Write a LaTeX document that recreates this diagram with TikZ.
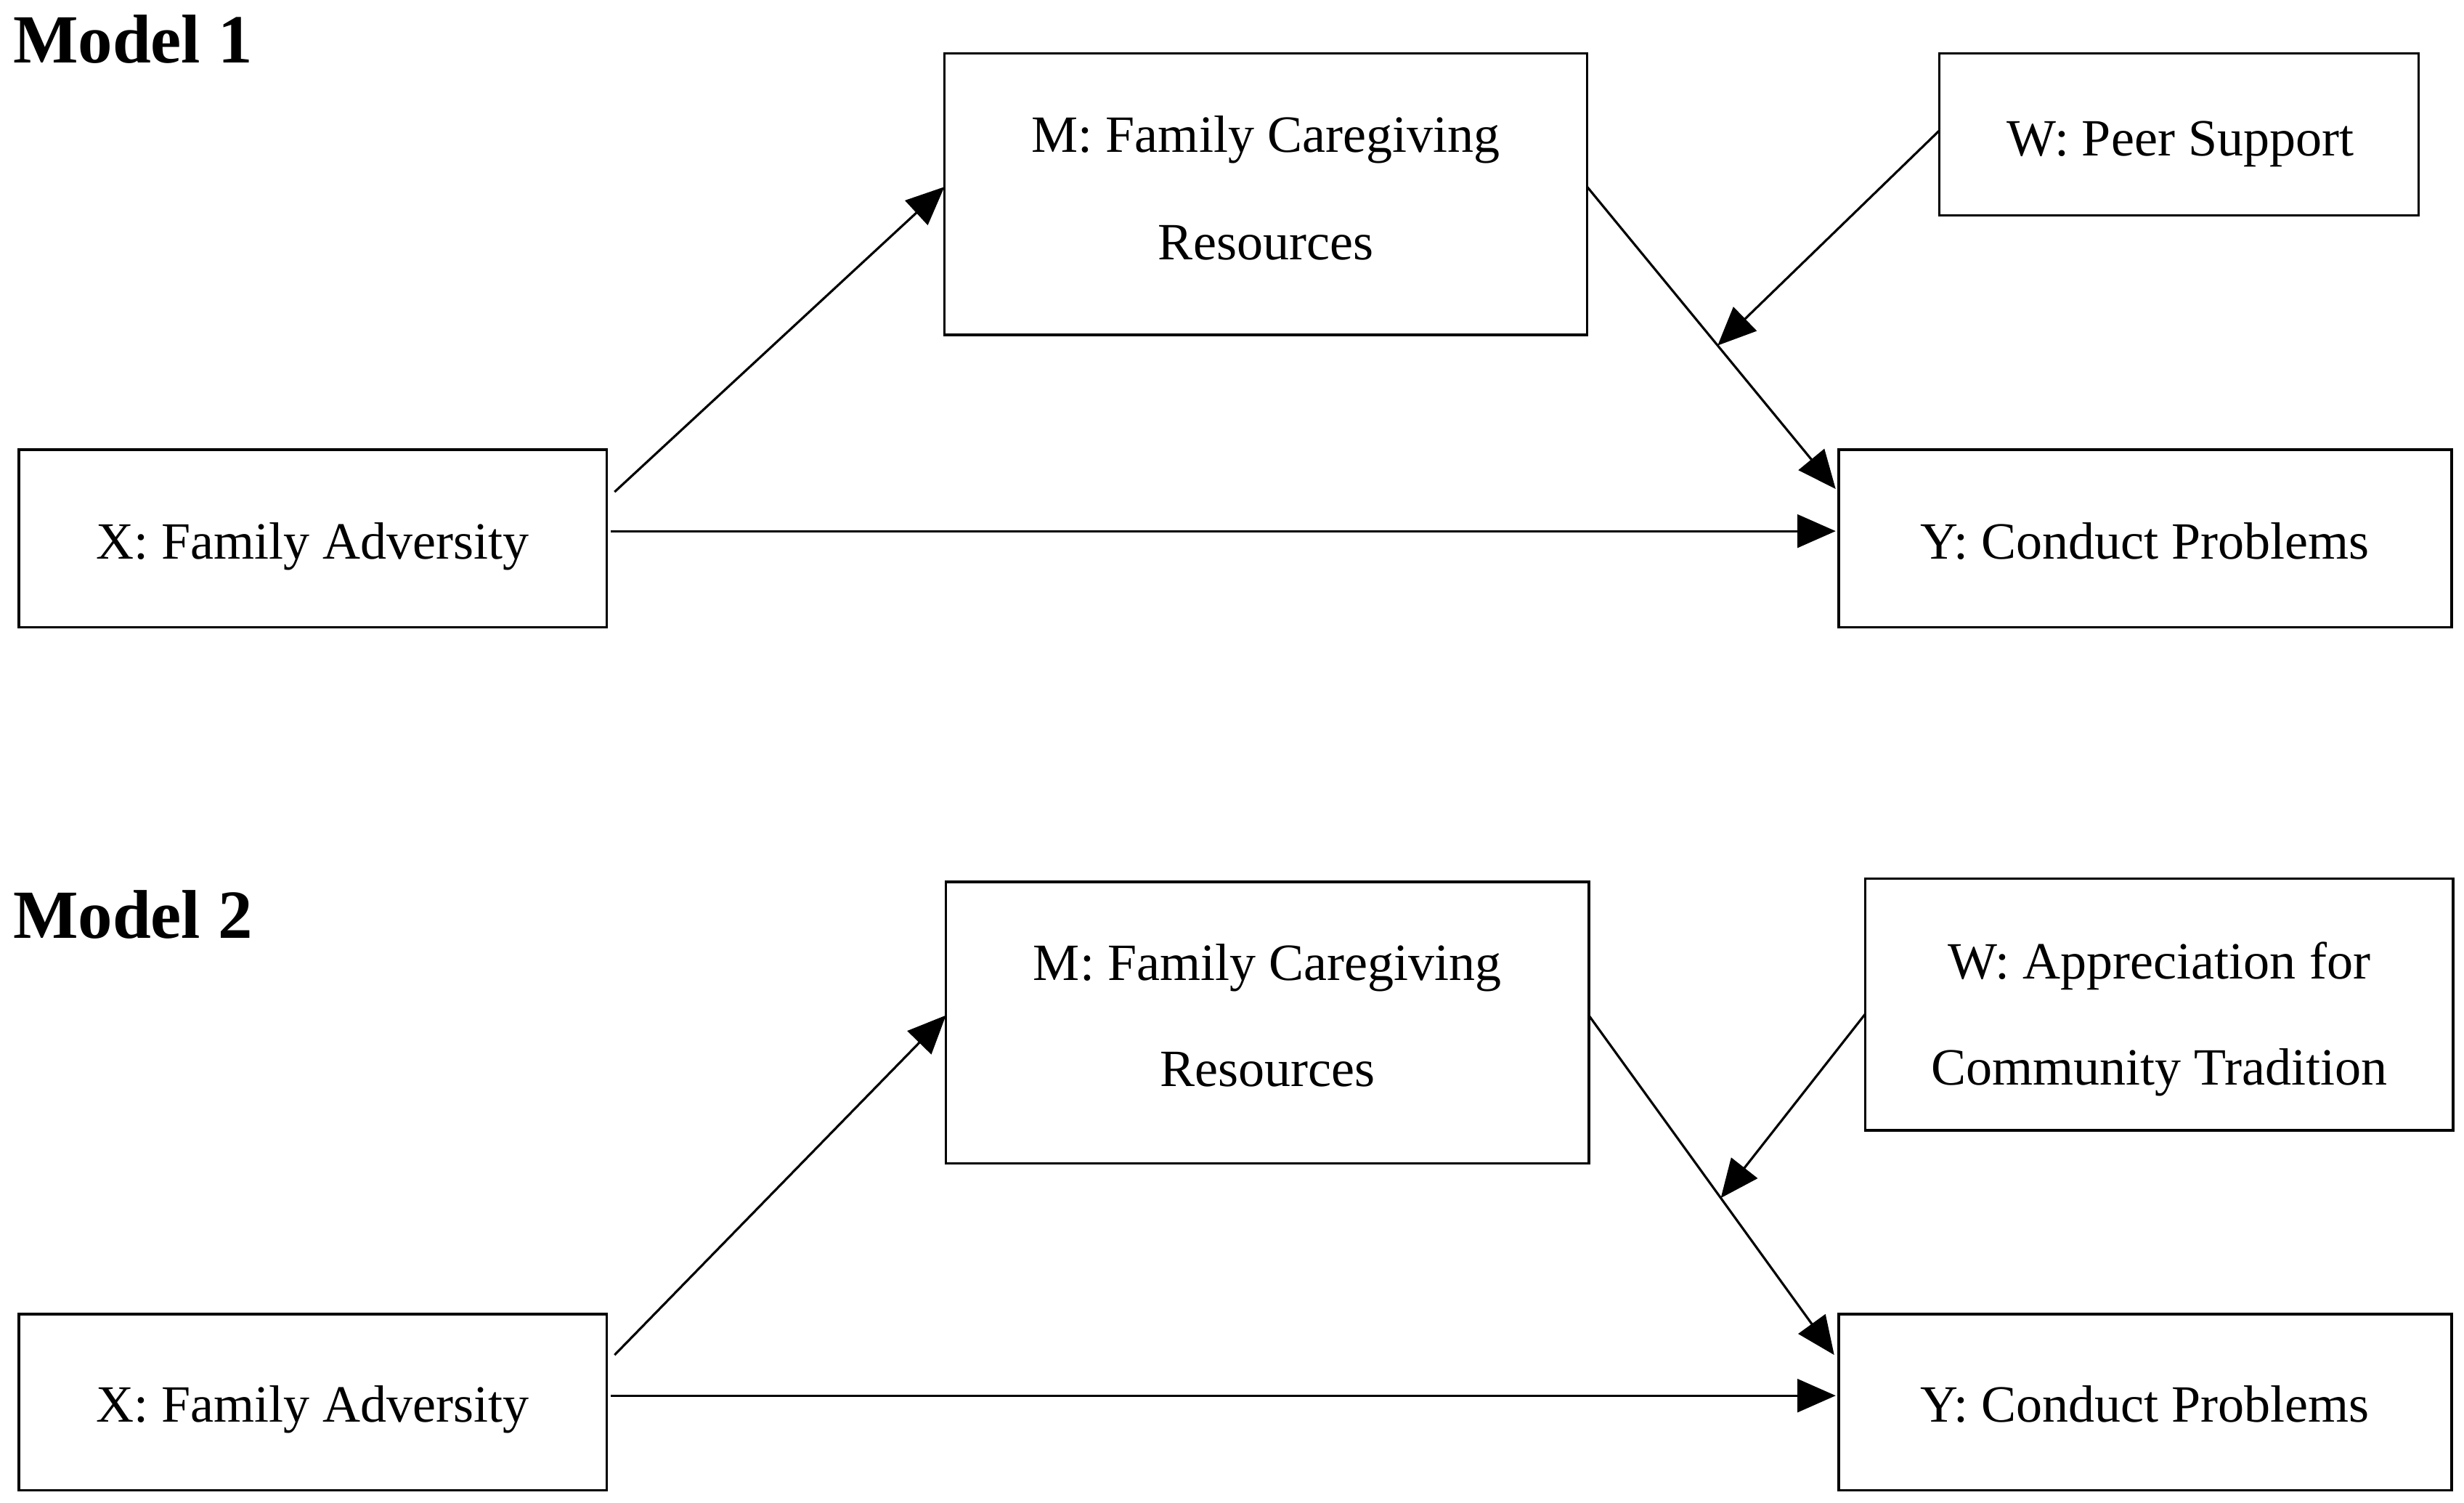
\documentclass[tikz,border=0pt]{standalone}
\usepackage{fontspec}
\setmainfont{Liberation Serif}
\usetikzlibrary{arrows.meta,calc}
\begin{document}
\begin{tikzpicture}[x=0.021639cm,y=-0.021639cm,
  box/.style={draw, line width=1pt, inner sep=0pt, outer sep=0pt},
  lbl/.style={anchor=base, inner sep=0pt, font=\fontsize{20.5}{41}\selectfont},
  conn/.style={line width=0.9pt, -{Triangle[length=15pt,width=13pt]}},
  title/.style={anchor=base west, inner sep=0pt, font=\fontsize{27}{32}\selectfont\bfseries}]
\useasboundingbox (0,0) rectangle (1568,956);

% ---------- Model 1 ----------
\node[title] (t1) at (8,40) {Model 1};
\node[box, minimum width=8.850cm, minimum height=3.873cm] (M1) at (805.5,123.5) {};
\node[lbl] (M1a) at (805.5,97) {M: Family Caregiving};
\node[lbl] (M1b) at (805.5,165) {Resources};
\node[box, minimum width=6.600cm, minimum height=2.229cm] (W1) at (1386.5,85.5) {};
\node[lbl] (W1a) at (1387.5,99) {W: Peer Support};
\node[box, minimum width=8.093cm, minimum height=2.445cm] (X1) at (199,342.5) {};
\node[lbl] (X1a) at (199,355.5) {X: Family Adversity};
\node[box, minimum width=8.439cm, minimum height=2.445cm] (Y1) at (1365,342.5) {};
\node[lbl] (Y1a) at (1365,355.5) {Y: Conduct Problems};

\draw[conn] ($(X1.east)+(0.11cm,0.64cm)$) -- ($(M1.west)+(0,0.1cm)$);
\draw[conn] ($(X1.east)+(0.06cm,0.1cm)$) -- ($(Y1.west)+(-0.04cm,0.1cm)$);
\draw[conn] ($(M1.east)+(0,0.1cm)$) -- coordinate[pos=0.525] (m1) ($(Y1.west)+(-0.04cm,0.68cm)$);
\draw[conn] ($(W1.west)+(0,0.05cm)$) -- (m1);

% ---------- Model 2 ----------
\node[title] (t2) at (8,597) {Model 2};
\node[box, minimum width=8.850cm, minimum height=3.873cm] (M2) at (806.5,650.5) {};
\node[lbl] (M2a) at (806.5,623.5) {M: Family Caregiving};
\node[lbl] (M2b) at (806.5,691) {Resources};
\node[box, minimum width=8.093cm, minimum height=3.462cm] (W2) at (1374,639) {};
\node[lbl] (W2a) at (1374,622.5) {W: Appreciation for};
\node[lbl] (W2b) at (1374,690) {Community Tradition};
\node[box, minimum width=8.093cm, minimum height=2.424cm] (X2) at (199,892) {};
\node[lbl] (X2a) at (199,904.5) {X: Family Adversity};
\node[box, minimum width=8.439cm, minimum height=2.424cm] (Y2) at (1365,892) {};
\node[lbl] (Y2a) at (1365,904.5) {Y: Conduct Problems};

\draw[conn] ($(X2.east)+(0.11cm,0.65cm)$) -- ($(M2.west)+(0,0.1cm)$);
\draw[conn] ($(X2.east)+(0.06cm,0.09cm)$) -- ($(Y2.west)+(-0.04cm,0.09cm)$);
\draw[conn] ($(M2.east)+(0,0.1cm)$) -- coordinate[pos=0.538] (m2) ($(Y2.west)+(-0.06cm,0.65cm)$);
\draw[conn] ($(W2.west)+(0,-0.13cm)$) -- (m2);
\end{tikzpicture}
\end{document}
